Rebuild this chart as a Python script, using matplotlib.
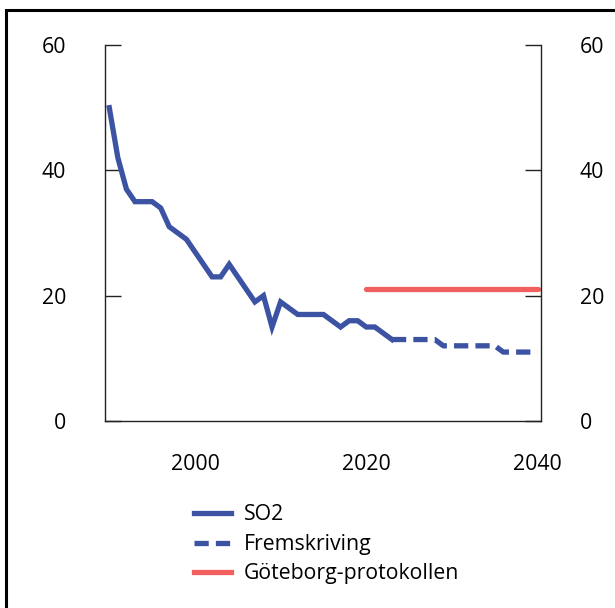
import matplotlib

matplotlib.use("Agg")
import matplotlib.pyplot as plt
from matplotlib.lines import Line2D
from matplotlib.patches import Rectangle

plt.rcParams["font.family"] = ["Open Sans", "DejaVu Sans"]

# SO2 emissions, 1990-2023 (historic)
years_hist = list(range(1990, 2024))
so2_hist = [50, 42, 37, 35, 35, 35, 34, 31, 30, 29, 27, 25, 23, 23, 25, 23, 21, 19,
            20, 15, 19, 18, 17, 17, 17, 17, 16, 15, 16, 16, 15, 15, 14, 13]

# projection, 2023-2040
years_proj = list(range(2023, 2041))
so2_proj = [13, 13, 13, 13, 13, 13, 12, 12, 12, 12, 12, 12, 12, 11, 11, 11, 11, 11]

# Gothenburg protocol target
years_goal = [2020, 2040]
goal = [21, 21]

labels = ["SO2", "Fremskriving", "Göteborg-protokollen"]
BLUE = "#3C53A4"
RED = "#F15F5F"
FS = 15.3

fig = plt.figure(figsize=(6.15, 6.08), dpi=100)
ax = fig.add_axes([105 / 615, 1 - 421 / 608, 436 / 615, 376 / 608])

ax.plot(years_hist, so2_hist, color=BLUE, lw=3.8, solid_joinstyle="miter")
ax.plot(years_proj, so2_proj, color=BLUE, lw=3.8, dashes=(2.7, 1.35),
        dash_capstyle="butt")
ax.plot(years_goal, goal, color=RED, lw=3.8, solid_capstyle="round")

ax.set_xlim(1989.5, 2040.4)
ax.set_ylim(0, 60)
ax.set_xticks([2000, 2020, 2040])
ax.set_yticks([0, 20, 40, 60])
ax.spines["top"].set_visible(False)
for s in ("left", "right", "bottom"):
    ax.spines[s].set_linewidth(1.0)
    ax.spines[s].set_color("#222222")
ax.tick_params(axis="y", direction="in", length=11.5, width=1.0, color="#222222",
               left=True, right=True, labelleft=True, labelright=True,
               pad=28, labelsize=FS)
ax.tick_params(axis="x", length=0, pad=24, labelsize=FS)

handles = [
    Line2D([], [], color=BLUE, lw=3.8),
    Line2D([], [], color=BLUE, lw=3.8, dashes=(2.7, 1.35), dash_capstyle="butt"),
    Line2D([], [], color=RED, lw=3.8),
]
fig.legend(handles, labels, loc="upper left", bbox_to_anchor=(185 / 615, 1 - 496 / 608),
           frameon=False, fontsize=FS, handlelength=1.75, handletextpad=0.6,
           labelspacing=0.4, borderaxespad=0)

fig.patches.append(Rectangle((6 / 615, -0.1), 1.2, 1 - 10 / 608 + 0.1,
                             transform=fig.transFigure, fill=False,
                             edgecolor="black", lw=2.2, figure=fig))

fig.savefig("out.png", dpi=100)
